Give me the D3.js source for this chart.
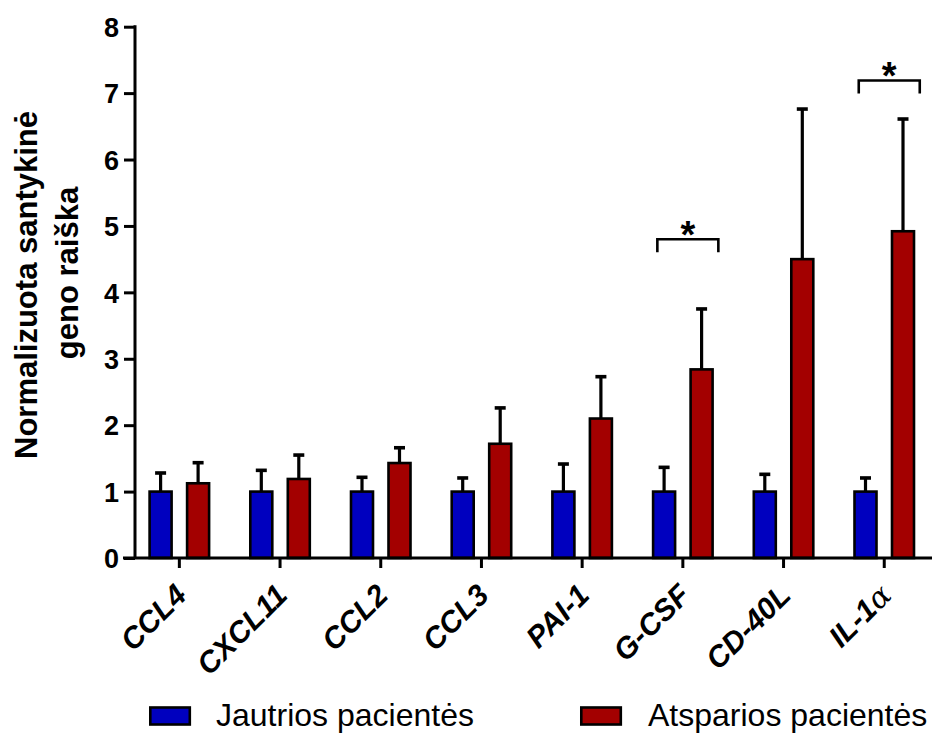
<!DOCTYPE html>
<html>
<head>
<meta charset="utf-8">
<script src="https://cdn.jsdelivr.net/npm/d3@7/dist/d3.min.js"></script>
<style>
  html, body { margin: 0; padding: 0; background: #fff; }
  svg { display: block; font-family: "Liberation Sans", Arial, Helvetica, sans-serif; }
</style>
</head>
<body>
<svg id="chart" width="936" height="734"></svg>
<script>
// ---- data ----
const categories = ["CCL4", "CXCL11", "CCL2", "CCL3", "PAI-1", "G-CSF", "CD-40L", "IL-1α"];
const seriesNames = ["Jautrios pacientės", "Atsparios pacientės"];
const sensitiveMean = [1.0, 1.0, 1.0, 1.0, 1.0, 1.0, 1.0, 1.0];
const sensitiveErr  = [1.28, 1.32, 1.215, 1.205, 1.415, 1.365, 1.26, 1.205];
const resistantMean = [1.125, 1.19, 1.43, 1.72, 2.1, 2.84, 4.5, 4.92];
const resistantErr  = [1.435, 1.55, 1.66, 2.26, 2.73, 3.75, 6.76, 6.61];
const yTicks = [0, 1, 2, 3, 4, 5, 6, 7, 8];
const significance = [
  { category: "G-CSF", level: 4.8, label: "*" },
  { category: "IL-1α", level: 7.19, label: "*" }
];
const colors = ["#0000bf", "#a30000"];

// ---- layout ----
const svg = d3.select("#chart");
const x = d3.scaleBand().domain(categories).range([129, 934.6]);
const y = d3.scaleLinear().domain([0, 8]).range([558, 26.7]);
const xSeries = d3.scalePoint().domain(seriesNames).range([-18.75, 18.75]);
const barW = 22;

const series = [
  { name: seriesNames[0], mean: sensitiveMean, err: sensitiveErr, color: colors[0] },
  { name: seriesNames[1], mean: resistantMean, err: resistantErr, color: colors[1] }
];

const cx = c => x(c) + x.bandwidth() / 2;

// bars + error bars
series.forEach(s => {
  const g = svg.append("g");
  const rows = categories.map((c, i) => ({ c, v: s.mean[i], e: s.err[i] }));
  g.selectAll("line.err").data(rows).join("line")
    .attr("x1", d => cx(d.c) + xSeries(s.name))
    .attr("x2", d => cx(d.c) + xSeries(s.name))
    .attr("y1", d => y(d.v))
    .attr("y2", d => y(d.e))
    .attr("stroke", "#000").attr("stroke-width", 3.2);
  g.selectAll("line.cap").data(rows).join("line")
    .attr("x1", d => cx(d.c) + xSeries(s.name) - 5.5)
    .attr("x2", d => cx(d.c) + xSeries(s.name) + 5.5)
    .attr("y1", d => y(d.e))
    .attr("y2", d => y(d.e))
    .attr("stroke", "#000").attr("stroke-width", 3.6);
  g.selectAll("rect").data(rows).join("rect")
    .attr("x", d => cx(d.c) + xSeries(s.name) - barW / 2)
    .attr("y", d => y(d.v))
    .attr("width", barW)
    .attr("height", d => y(0) - y(d.v))
    .attr("fill", s.color)
    .attr("stroke", "#000").attr("stroke-width", 2.6);
});

// y axis
const yAxis = d3.axisLeft(y).tickValues(yTicks).tickFormat("").tickSize(11);
const gy = svg.append("g").attr("transform", "translate(135,0)").call(yAxis);
gy.select(".domain").attr("stroke-width", 3).attr("d", `M0,${y(8) - 1.5}V${y(0)}`);
gy.selectAll(".tick line").attr("stroke-width", 3);
gy.selectAll(".tick text").remove();
gy.selectAll(".tick").append("text")
  .attr("x", -16).attr("dy", "0.36em")
  .attr("text-anchor", "end")
  .attr("fill", "#000")
  .style("font-size", "27px")
  .style("font-weight", "bold")
  .style("font-family", "'Liberation Sans', Arial, sans-serif")
  .text(d => d3.format("d")(d));

// x axis
const xAxis = d3.axisBottom(x).tickSize(10).tickSizeOuter(0).tickFormat("");
const gx = svg.append("g").attr("transform", `translate(0,${y(0)})`).call(xAxis);
gx.select(".domain").attr("stroke-width", 3).attr("d", "M123,0H932");
gx.selectAll(".tick line").attr("stroke-width", 3);
gx.selectAll(".tick text").remove();
gx.selectAll(".tick").append("text")
  .attr("transform", "translate(9,39) rotate(-45)")
  .attr("text-anchor", "end")
  .attr("fill", "#000")
  .style("font-size", "30px")
  .style("font-weight", "bold")
  .style("font-style", "italic")
  .style("font-family", "'Liberation Sans', Arial, sans-serif")
  .each(function(d) {
    const t = d3.select(this);
    if (d === "IL-1α") {
      t.append("tspan").text("IL-1");
      t.append("tspan").style("font-weight", "normal").style("font-family", "'DejaVu Serif', serif").text("α");
    } else {
      t.text(d);
    }
  });

// significance brackets
significance.forEach(s => {
  const c = cx(s.category);
  const yl = y(s.level);
  svg.append("path")
    .attr("d", `M${c - 25.5},${yl + 13}V${yl}H${c + 35.5}V${yl + 13}`)
    .attr("fill", "none").attr("stroke", "#000").attr("stroke-width", 2.6);
  svg.append("text")
    .attr("x", c + 5).attr("y", yl + 9)
    .attr("text-anchor", "middle")
    .style("font-size", "38px").style("font-weight", "bold")
    .text(s.label);
});

// y title
const yTitle = svg.append("text")
  .attr("transform", "translate(0,285) rotate(-90)")
  .attr("text-anchor", "middle")
  .style("font-size", "31px").style("font-weight", "bold").attr("fill", "#000");
yTitle.append("tspan").attr("x", 0).attr("y", 37).text("Normalizuota santykinė");
yTitle.append("tspan").attr("x", 12).attr("y", 78).text("geno raiška");

// legend
const legendPos = [{ sx: 149, tx: 216 }, { sx: 580, tx: 648 }];
series.forEach((s, i) => {
  svg.append("rect")
    .attr("x", legendPos[i].sx + 1.3).attr("y", 707.5)
    .attr("width", 39.5).attr("height", 17)
    .attr("fill", s.color).attr("stroke", "#000").attr("stroke-width", 2.6);
  svg.append("text")
    .attr("x", legendPos[i].tx).attr("y", 726)
    .style("font-size", "32px").attr("fill", "#000")
    .text(s.name);
});
</script>
</body>
</html>
